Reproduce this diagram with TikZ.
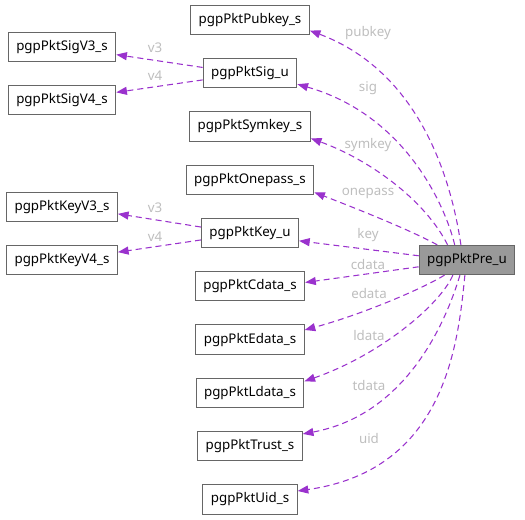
\documentclass[tikz,border=0pt]{standalone}
\usepackage{fontspec}
\setmainfont{Noto Sans}
\definecolor{edgepurple}{HTML}{9A32CD}
\definecolor{boxgray}{HTML}{666666}
\definecolor{rootgray}{HTML}{999999}
\definecolor{labelgray}{HTML}{BEBEBE}
\usetikzlibrary{positioning, arrows.meta}

\begin{document}
\begin{tikzpicture}[x=0.75pt, y=-0.75pt,
        cls/.style={draw=boxgray, fill=white, line width=0.75pt, minimum height=22pt,
                    inner xsep=6pt, font=\fontsize{10}{12}\selectfont},
        root/.style={cls, fill=rootgray},
        dep/.style={-{Triangle[length=8pt,width=6pt]}, edgepurple, line width=0.8pt,
                    dash pattern=on 4.5pt off 3pt},
        elabel/.style={text=labelgray, font=\fontsize{10}{12}\selectfont, inner sep=0pt}
      ]
        \useasboundingbox (0,0) rectangle (525,520);
        % middle column
        \node[cls] (pubkey) at (250,20) {pgpPktPubkey\_s};
        \node[cls, below=17.2pt of pubkey] (sig) {pgpPktSig\_u};
        \node[cls, below=17.2pt of sig] (symkey) {pgpPktSymkey\_s};
        \node[cls, below=17.2pt of symkey] (onepass) {pgpPktOnepass\_s};
        \node[cls, below=17.2pt of onepass] (key) {pgpPktKey\_u};
        \node[cls, below=17.2pt of key] (cdata) {pgpPktCdata\_s};
        \node[cls, below=17.2pt of cdata] (edata) {pgpPktEdata\_s};
        \node[cls, below=17.2pt of edata] (ldata) {pgpPktLdata\_s};
        \node[cls, below=17.2pt of ldata] (trust) {pgpPktTrust\_s};
        \node[cls, below=17.2pt of trust] (uid) {pgpPktUid\_s};
        % left column
        \node[cls] (sigv3) at (62,47) {pgpPktSigV3\_s};
        \node[cls] (sigv4) at (62,100) {pgpPktSigV4\_s};
        \node[cls] (keyv3) at (62,207) {pgpPktKeyV3\_s};
        \node[cls] (keyv4) at (62,260) {pgpPktKeyV4\_s};
        % root
        \node[root] (pre) at (467,260) {pgpPktPre\_u};

        \draw[dep] (pre.112) .. controls (450,170) and (415,70) .. (pubkey.-10);
        \draw[dep] (pre.129) .. controls (445,205) and (405,115) .. (sig.-13);
        \draw[dep] (pre.142) .. controls (425,200) and (370,160) .. (symkey.-11);
        \draw[dep] (pre.153) .. controls (410,230) and (360,210) .. (onepass.-11);
        \draw[dep] (pre.175) -- (key.-9);
        \draw[dep] (pre.188) -- (cdata.4);
        \draw[dep] (pre.214) .. controls (420,290) and (360,315) .. (edata.10);
        \draw[dep] (pre.227) .. controls (440,305) and (380,355) .. (ldata.12);
        \draw[dep] (pre.245) .. controls (445,325) and (405,415) .. (trust.13);
        \draw[dep] (pre.262) .. controls (458,345) and (445,470) .. (uid.10);
        \draw[dep] (sig.173) -- (sigv3.-8);
        \draw[dep] (sig.188) -- (sigv4.8);
        \draw[dep] (key.173) -- (keyv3.-7);
        \draw[dep] (key.188) -- (keyv4.8);

        \node[elabel] (l-pubkey) at (368,33) {pubkey};
        \node[elabel] (l-sig) at (368,88) {sig};
        \node[elabel] (l-symkey) at (368,145) {symkey};
        \node[elabel] (l-onepass) at (368,193) {onepass};
        \node[elabel] (l-key) at (368,235) {key};
        \node[elabel] (l-cdata) at (368,265) {cdata};
        \node[elabel] (l-edata) at (369,294) {edata};
        \node[elabel] (l-ldata) at (369,336) {ldata};
        \node[elabel] (l-tdata) at (369,385) {tdata};
        \node[elabel] (l-uid) at (369,438) {uid};
        \node[elabel] (l-sigv3) at (155,48) {v3};
        \node[elabel] (l-sigv4) at (155,76) {v4};
        \node[elabel] (l-keyv3) at (155,208) {v3};
        \node[elabel] (l-keyv4) at (155,237) {v4};
      \end{tikzpicture}
\end{document}
